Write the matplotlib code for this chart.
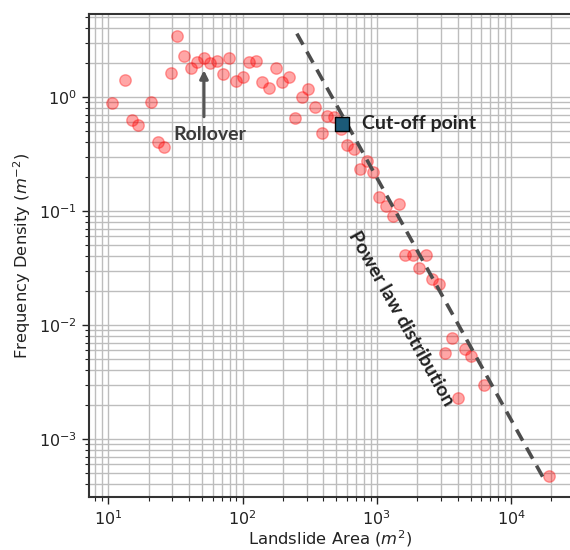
import matplotlib
matplotlib.use("Agg")
import matplotlib.pyplot as plt

# ---- data ----
area = [10.6, 13.3, 14.9, 16.6, 20.8, 23.3, 26.1, 29.3, 32.7, 36.7,
        41.1, 46.0, 51.6, 57.5, 64.2, 71.0, 79.7, 89.0, 100.3, 112.4,
        126.1, 140.4, 157.6, 176.2, 197.0, 220.2, 247.4, 275.3, 308.6, 346.9,
        387.9, 428.5, 480.6, 539.1, 600.6, 677.4, 750.8, 842.3, 943.4, 1046,
        1173, 1311, 1466, 1634, 1849, 2077, 2318, 2582, 2927, 3228,
        3640, 4055, 4510, 5044, 6310, 19330]
density = [0.891, 1.41, 0.632, 0.565, 0.904, 0.403, 0.362, 1.61, 3.46, 2.31,
           1.81, 2.03, 2.22, 1.97, 2.05, 1.59, 2.22, 1.37, 1.51, 2.01,
           2.08, 1.35, 1.20, 1.81, 1.35, 1.50, 0.657, 0.994, 1.17, 0.820,
           0.488, 0.681, 0.672, 0.521, 0.377, 0.348, 0.235, 0.275, 0.220, 0.1335,
           0.1106, 0.0910, 0.1152, 0.0409, 0.0411, 0.0319, 0.0411, 0.0255, 0.0229, 0.00570,
           0.00769, 0.00231, 0.00612, 0.00540, 0.00296, 0.000474]

cutoff_x = [548.6]
cutoff_y = [0.580]

fit_x = [254, 18300]
fit_y = [3.6, 4.1e-4]

x_label = "Landslide Area ($m^2$)"
y_label = "Frequency Density ($m^{-2}$)"

# ---- figure ----
W, H = 570, 550
fig = plt.figure(figsize=(W / 100, H / 100), dpi=100)
left = 89.3 / W
bottom = 1 - 497 / H
top = 1 - 14 / H
ax = fig.add_axes([left, bottom, 1.0 - left, top - bottom])

ax.set_xscale("log")
ax.set_yscale("log")
ax.set_xlim(7.22, 27500)
ax.set_ylim(3.10e-4, 5.35)

ax.grid(True, which="both", color="#bdbdbd", linewidth=1.0)
ax.set_axisbelow(True)

ax.scatter(area, density, s=68, color="red", alpha=0.35, linewidths=1.0,
           zorder=3)
ax.plot(fit_x, fit_y, linestyle=(0, (3.5, 2.2)), color="#4d4d4d",
        linewidth=2.6, zorder=4)
ax.scatter(cutoff_x, cutoff_y, marker="s", s=115, color="#1b5a78",
           edgecolors="black", linewidths=1.0, zorder=5)

bold_font = dict(family=["Lato", "DejaVu Sans"], fontweight="bold")

ax.annotate("", xy=(51.6, 1.72), xytext=(51.6, 0.672),
            arrowprops=dict(arrowstyle="-|>", color="#555555", lw=2.2,
                            mutation_scale=12, shrinkA=0, shrinkB=0),
            zorder=6)
ax.text(57.3, 0.4735, "Rollover", ha="center", va="center", fontsize=14,
        color="#3a3a3a", **bold_font, zorder=6)
ax.text(773, 0.588, "Cut-off point", ha="left", va="center", fontsize=14,
        color="#222222", **bold_font, zorder=6)
ax.text(1517, 0.0113, "Power law distribution", ha="center", va="center",
        fontsize=14, rotation=-60.7, rotation_mode="anchor",
        color="#222222", **bold_font, zorder=6)

for side in ["left", "bottom", "top"]:
    ax.spines[side].set_color("#333333")
    ax.spines[side].set_linewidth(1.5)
ax.spines["right"].set_visible(False)

ax.tick_params(which="major", direction="out", length=5, width=1.0,
               labelsize=11.5, colors="#222222", pad=4)
ax.tick_params(which="minor", direction="out", length=3, width=0.8,
               colors="#222222")
ax.set_xlabel(x_label, fontsize=11.8, color="#222222", labelpad=0)
ax.set_ylabel(y_label, fontsize=11.8, color="#222222", labelpad=4)

fig.savefig("out.png", dpi=100, facecolor="white")
